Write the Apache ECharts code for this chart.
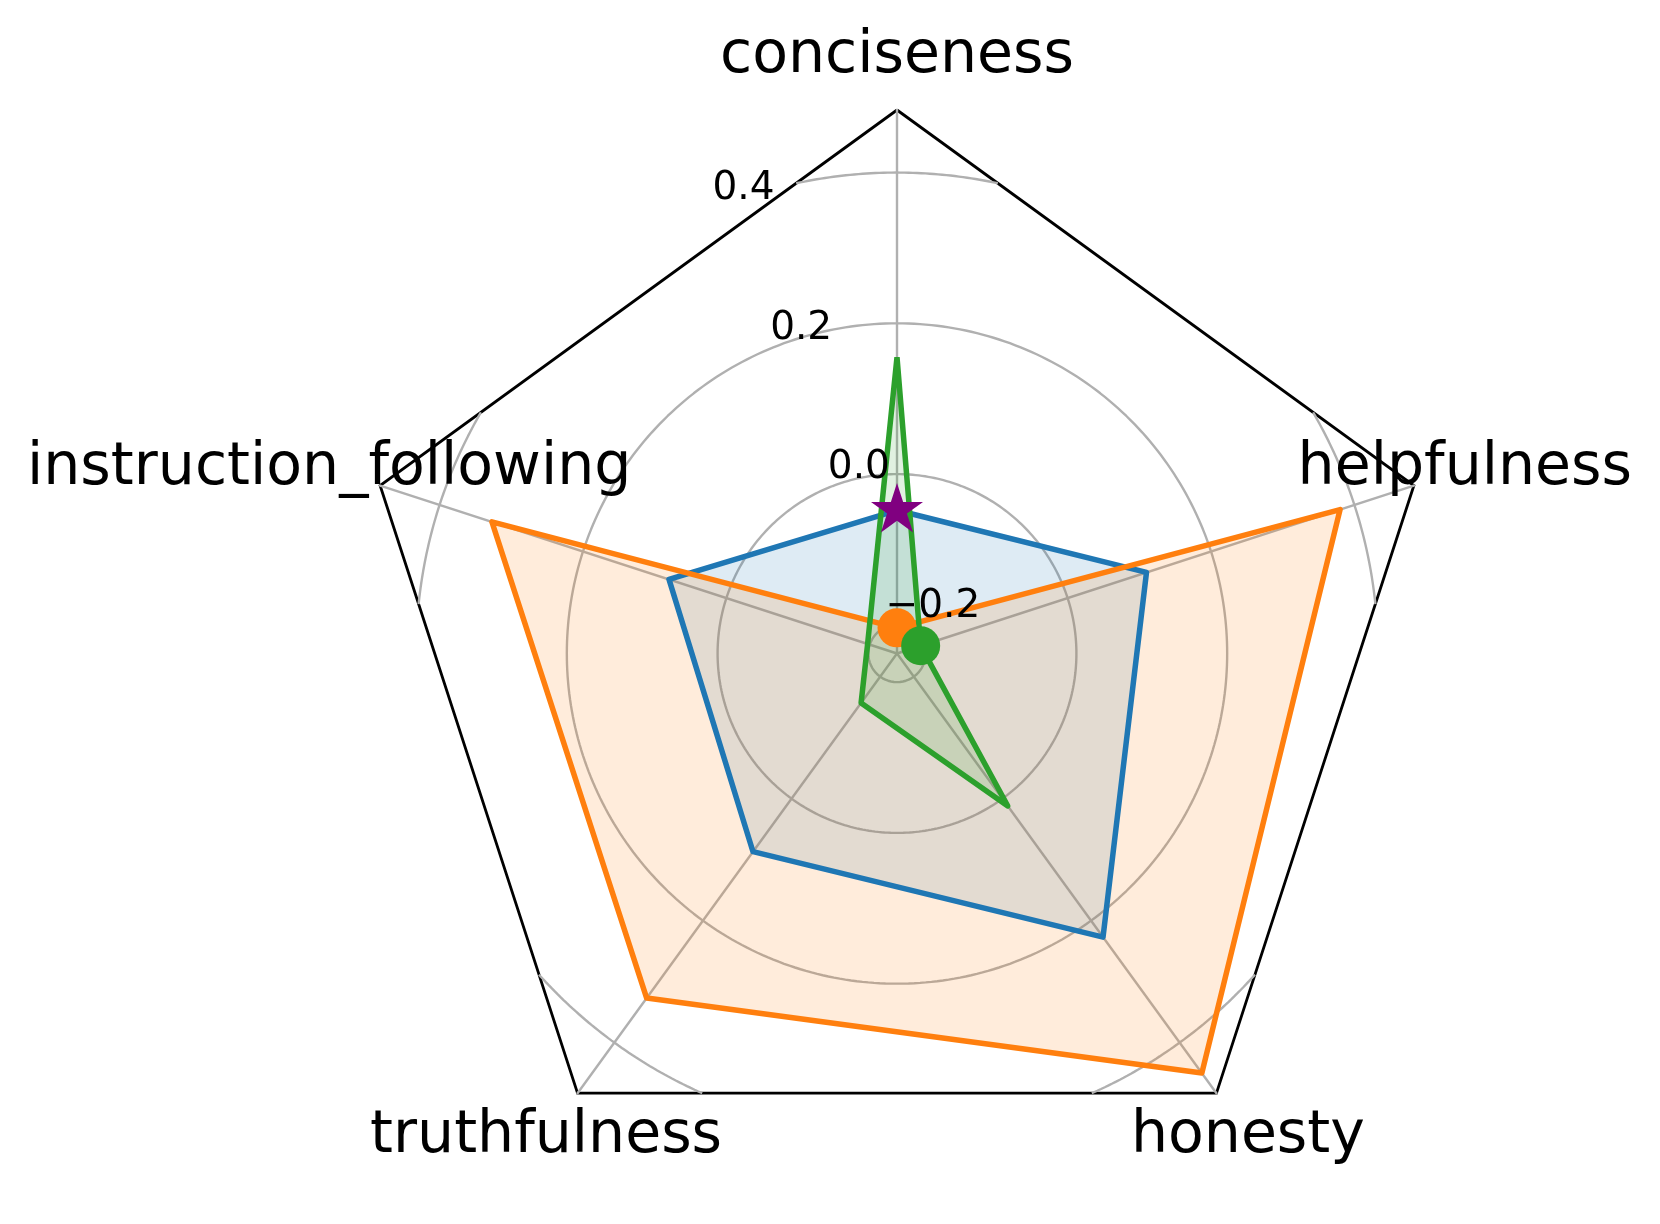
<!DOCTYPE html>
<html>
<head>
<meta charset="utf-8">
<script src="https://cdn.jsdelivr.net/npm/echarts@6/dist/echarts.min.js"></script>
<style>
  html, body { margin: 0; padding: 0; background: #fff; }
  #chart { width: 1660px; height: 1224px; }
</style>
</head>
<body>
<div id="chart"></div>
<script>
// categories, clockwise from the top
const categories = ['conciseness', 'helpfulness', 'honesty', 'truthfulness', 'instruction_following'];
const seriesBlue = [-0.048, 0.110, 0.227, 0.087, 0.080];
const seriesOrange = [-0.204, 0.380, 0.450, 0.327, 0.327];
const seriesGreen = [0.155, -0.205, 0.012, -0.157, -0.197];
const radialTicks = [-0.2, 0.0, 0.2, 0.4];
const radialTickLabels = ['−0.2', '0.0', '0.2', '0.4'];

const R_MIN = -0.238;
const R_MAX = 0.483;
const CENTER = [897, 653.5];
const RADIUS = 543.5;
const LABEL_R = 0.554; // where the category names sit
const GRID = '#b0b0b0';
const FONT = 'DejaVu Sans';
const colors = ['#1f77b4', '#ff7f0e', '#2ca02c'];

const n = categories.length;
const angleOf = i => i * 360 / n;
// radar lays indicators out counter-clockwise
const ccw = categories.map((_, i) => (n - i) % n);

function argmin(a) {
  return a.indexOf(Math.min(...a));
}

// circular grid rings, clipped to the pentagon frame
function ringSeries(v) {
  const frac = (v - R_MIN) / (R_MAX - R_MIN);
  const apo = Math.cos(Math.PI / n);
  const base = {
    type: 'line', coordinateSystem: 'polar', symbol: 'none', silent: true, z: 1,
    lineStyle: { color: GRID, width: 2.4 }
  };
  if (frac <= apo) {
    const data = [];
    for (let a = 0; a <= 360; a += 1) data.push([v, a]);
    return [Object.assign({ data }, base)];
  }
  const half = 180 / n - Math.acos(apo / frac) * 180 / Math.PI;
  return categories.map((_, k) => {
    const data = [];
    for (let a = -half; a < half; a += 0.5) data.push([v, angleOf(k) + a]);
    data.push([v, angleOf(k) + half]);
    return Object.assign({ data }, base);
  });
}

const starPath = (() => {
  let d = '';
  for (let k = 0; k < 10; k++) {
    const r = k % 2 ? 0.382 : 1;
    const t = Math.PI / 2 + k * Math.PI / 5;
    d += (k ? 'L' : 'M') + (r * Math.cos(t)).toFixed(4) + ' ' + (-r * Math.sin(t)).toFixed(4);
  }
  return 'path://' + d + 'Z';
})();

// fills go under all the outlines
function fillItem(vals, c) {
  return {
    value: ccw.map(i => vals[i]),
    lineStyle: { width: 0, opacity: 0 },
    areaStyle: { color: c, opacity: 0.15 }
  };
}
function lineItem(vals, c) {
  return {
    value: ccw.map(i => vals[i]),
    lineStyle: { color: c, width: 5.5 },
    itemStyle: { color: c }
  };
}

function minMarker(vals, symbol, size, color, z, offset) {
  const k = argmin(vals);
  return {
    type: 'scatter', coordinateSystem: 'polar', silent: true, clip: false, z,
    symbol, symbolSize: size, symbolOffset: offset || [0, 0],
    itemStyle: { color, opacity: 1 },
    data: [[vals[k], angleOf(k)]]
  };
}

const myChart = echarts.init(document.getElementById('chart'));

let series = [];
radialTicks.forEach(v => { series = series.concat(ringSeries(v)); });

series.push({
  type: 'radar', z: 2, symbol: 'none', silent: true,
  data: [
    fillItem(seriesBlue, colors[0]),
    fillItem(seriesOrange, colors[1]),
    fillItem(seriesGreen, colors[2])
  ]
});
series.push({
  type: 'radar', z: 3, symbol: 'none', silent: true,
  data: [
    lineItem(seriesBlue, colors[0]),
    lineItem(seriesOrange, colors[1]),
    lineItem(seriesGreen, colors[2])
  ]
});

series.push(minMarker(seriesOrange, 'circle', 39, colors[1], 5));
series.push(minMarker(seriesGreen, 'circle', 39, colors[2], 6));
series.push(minMarker(seriesBlue, starPath, [52, 49.5], '#800080', 7, [0, -2.5]));

// radial tick labels
series.push({
  type: 'scatter', coordinateSystem: 'polar', silent: true, clip: false, z: 8,
  symbolSize: 1, itemStyle: { color: 'rgba(0,0,0,0)', opacity: 1 },
  data: radialTicks.map((v, i) => ({ value: [v, 360 - 22.5], label: { formatter: radialTickLabels[i] } })),
  label: {
    show: true, position: [0, 0], align: 'left', verticalAlign: 'bottom',
    fontFamily: FONT, fontSize: 39, color: '#000'
  }
});

// category names
series.push({
  type: 'scatter', coordinateSystem: 'polar', silent: true, clip: false, z: 9,
  symbolSize: 1, itemStyle: { color: 'rgba(0,0,0,0)', opacity: 1 },
  data: categories.map((c, i) => ({ value: [LABEL_R, angleOf(i)], label: { formatter: c } })),
  label: {
    show: true, position: 'inside', align: 'center', verticalAlign: 'middle',
    fontFamily: FONT, fontSize: 58.5, color: '#000'
  }
});

myChart.setOption({
  animation: false,
  backgroundColor: '#fff',
  radar: {
    center: CENTER,
    radius: RADIUS,
    startAngle: 90,
    splitNumber: 1,
    shape: 'polygon',
    indicator: ccw.map(i => ({ name: categories[i], min: R_MIN, max: R_MAX })),
    axisName: { show: false },
    axisLine: { lineStyle: { color: GRID, width: 2.4 } },
    splitLine: { lineStyle: { color: '#000', width: 2.8 } },
    splitArea: { show: false },
    axisTick: { show: false },
    axisLabel: { show: false }
  },
  polar: { center: CENTER, radius: RADIUS },
  angleAxis: { type: 'value', min: 0, max: 360, startAngle: 90, clockwise: true, show: false },
  radiusAxis: { type: 'value', min: R_MIN, max: R_MAX, show: false },
  series: series
});

window.addEventListener('resize', () => myChart.resize());
</script>
</body>
</html>
